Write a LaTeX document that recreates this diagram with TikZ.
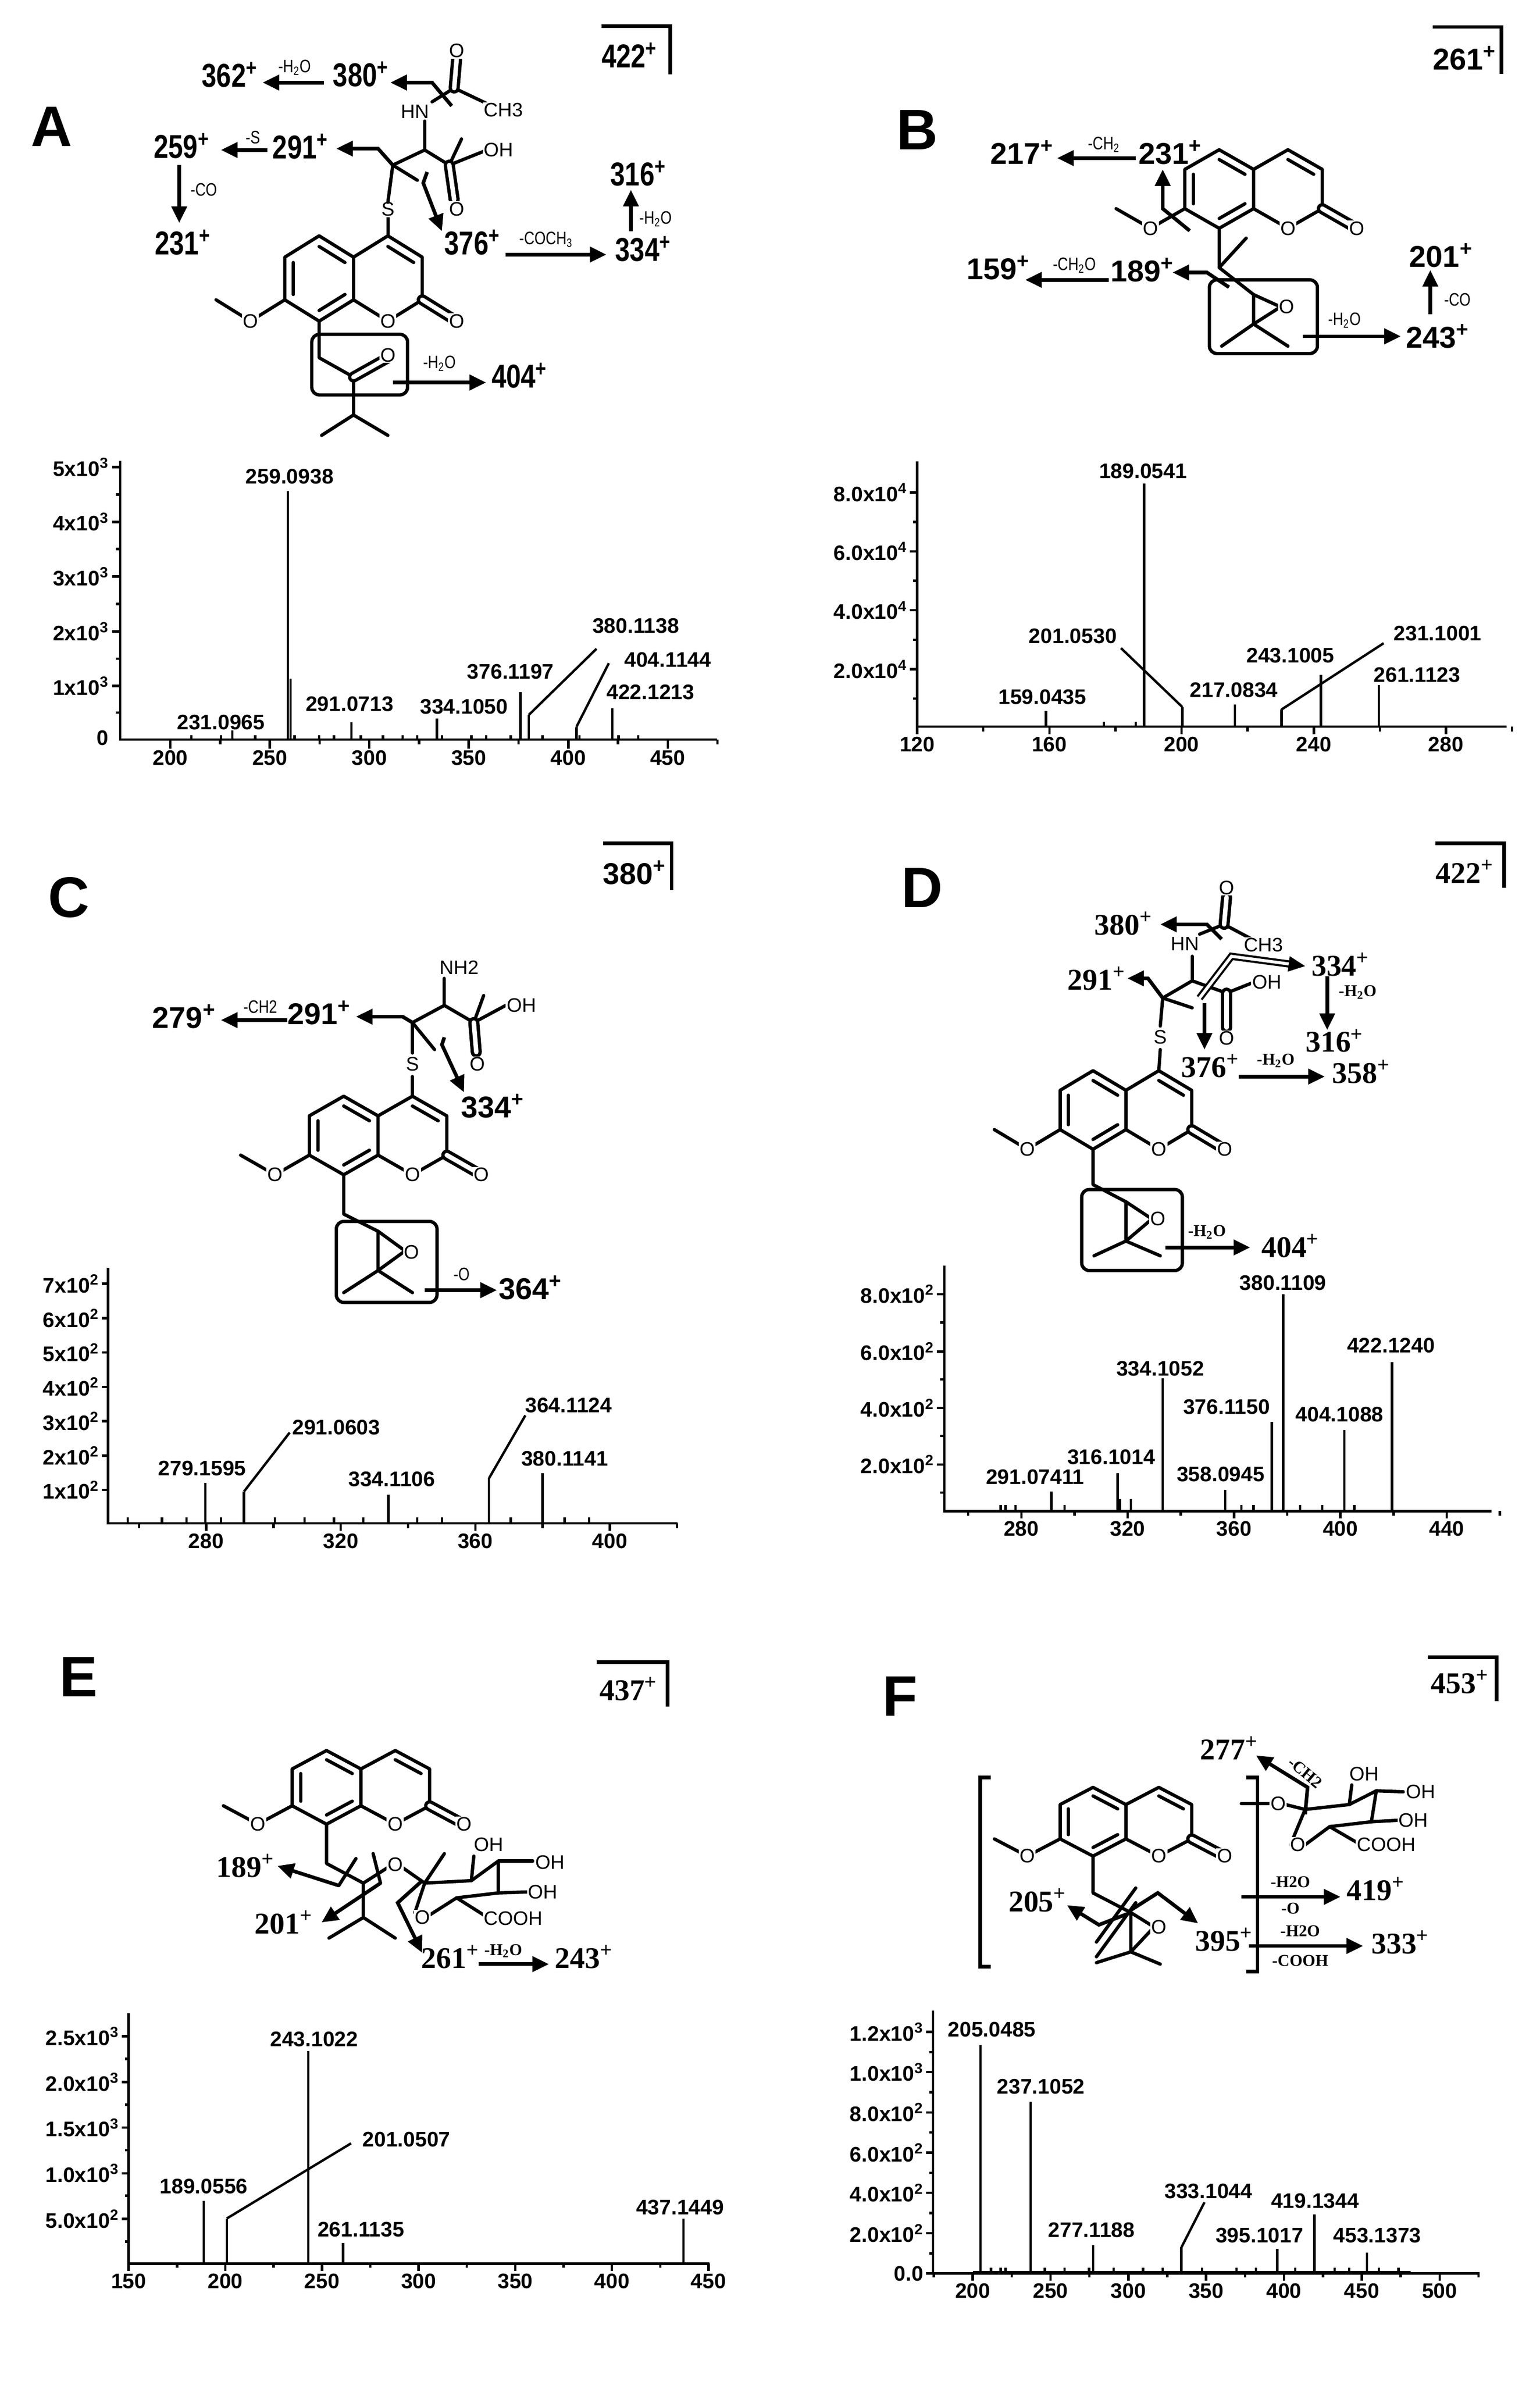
\documentclass[tikz,border=0pt]{standalone}
\usepackage{fontspec}
\setmainfont{Liberation Serif}
\setsansfont{Liberation Sans}
\newfontfamily\nsans[FakeStretch=0.8]{Liberation Sans}
\usetikzlibrary{arrows.meta,calc}
\newcommand\pl{\textsuperscript{+}}
\tikzset{
 bond/.style={line width=2.2pt,line cap=round,line join=round},
 atom/.style={fill=white,inner sep=0.6pt,font=\sffamily\fontsize{13}{13}\selectfont},
 arr/.style={line width=2.4pt,-{Triangle[length=11pt,width=10pt]}},
 ax/.style={line width=1.6pt},
 peak/.style={line width=1.6pt},
 sl/.style={font=\sffamily\bfseries\fontsize{14}{14}\selectfont,inner sep=1pt},
 fa/.style={font=\nsans\bfseries\fontsize{22}{22}\selectfont,inner sep=0pt},
 fs/.style={font=\sffamily\bfseries\fontsize{20}{20}\selectfont,inner sep=0pt},
 ft/.style={font=\rmfamily\bfseries\fontsize{20}{20}\selectfont,inner sep=0pt},
 sm/.style={font=\nsans\fontsize{12}{12}\selectfont,inner sep=0pt},
 smt/.style={font=\rmfamily\bfseries\fontsize{11}{11}\selectfont,inner sep=0pt},
 letter/.style={font=\sffamily\bfseries\fontsize{38}{38}\selectfont},
 boxl/.style={line width=2.4pt},
}
\newcommand\coum[5]{%
 \begin{scope}[shift={(#1,#2)}]
 \path (0,{-#4/2}) coordinate (#5a) (0,{#4/2}) coordinate (#5b)
 ({-#3},{-#4}) coordinate (#5l1) ({-2*#3},{-#4/2}) coordinate (#5l2)
 ({-2*#3},{#4/2}) coordinate (#5l3) ({-#3},{#4}) coordinate (#5l4)
 (#3,{-#4}) coordinate (#5r1) ({2*#3},{-#4/2}) coordinate (#5r2)
 ({2*#3},{#4/2}) coordinate (#5r3) (#3,#4) coordinate (#5r4)
 ({-#3},0) coordinate (#5cl) (#3,0) coordinate (#5cr)
 ({3*#3},#4) coordinate (#5ox) ({-3*#3},#4) coordinate (#5om) ({-4*#3},{#4/2}) coordinate (#5me);
 \draw[bond] (#5a)--(#5l1)--(#5l2)--(#5l3)--(#5l4)--(#5b)--cycle;
 \draw[bond] (#5a)--(#5r1)--(#5r2)--(#5r3)--(#5r4)--(#5b);
 \draw[bond] ($(#5a)!0.25!(#5cl)$)--($(#5l1)!0.25!(#5cl)$);
 \draw[bond] ($(#5l2)!0.25!(#5cl)$)--($(#5l3)!0.25!(#5cl)$);
 \draw[bond] ($(#5l4)!0.25!(#5cl)$)--($(#5b)!0.25!(#5cl)$);
 \draw[bond] ($(#5r1)!0.25!(#5cr)$)--($(#5r2)!0.25!(#5cr)$);
 \draw[bond,double,double distance=3pt] (#5r3)--(#5ox);
 \draw[bond] (#5l3)--(#5om)--(#5me);
 \node[atom] (#5O1) at (#5r4) {O};
 \node[atom] (#5O2) at (#5ox) {O};
 \node[atom] (#5O3) at (#5om) {O};
 \end{scope}}
\begin{document}
\begin{tikzpicture}[x=1pt,y=-1pt]
\path[use as bounding box,fill=white] (0,0) rectangle (1024,1584);

%%%%%%%%%%%%%%%% PANEL A (top)
\begin{scope}[x=0.3265pt,y=-0.183pt]
\node[letter] (lA) at (105,460) {A};
\draw[boxl] (1225,95)--(1365,95)--(1365,270);
\node[fa] (pA) at (1282,200) {422\pl};
\coum{720}{1012}{70}{155}{A}
\draw[bond] (Al4)--(650,1300)--(720,1370)--(720,1508);
\draw[bond,double,double distance=3pt] (720,1370)--(790,1300);
\node[atom] at (790,1290) {O};
\draw[bond] (720,1508)--(655,1582) (720,1508)--(790,1582);
\draw[line width=2.2pt,rounded corners=5pt] (635,1215) rectangle (830,1435);
\draw[arr] (800,1390)--(990,1390);
\node[sm] at (895,1320) {-H\textsubscript{2}O};
\node[fa] (A404) at (1058,1365) {404\pl};
\draw[bond] (Ar1)--(790,790);
\node[atom] (AS) at (790,760) {S};
\draw[bond] (790,735)--(800,600)--(865,545)--(915,600);
\draw[bond] (865,545)--(865,440);
\node[atom] (AHN) at (845,405) {HN};
\draw[bond] (880,370)--(925,320)--(990,375);
\draw[bond,double,double distance=3pt] (925,320)--(930,215);
\node[atom] at (930,185) {O};
\node[atom] at (1025,400) {CH3};
\draw[bond] (915,600)--(985,550);
\node[atom] at (1015,545) {OH};
\draw[bond] (915,600)--(940,505);
\draw[bond,double,double distance=3pt] (915,600)--(925,725);
\node[atom] at (930,760) {O};
\draw[bond] (800,600)--(850,655);
\draw[arr] (920,385)--(880,300)--(795,300);
\node[fa] (A380) at (735,270) {380\pl};
\draw[arr] (660,300)--(535,300);
\node[sm] at (600,245) {-H\textsubscript{2}O};
\node[fa] (A362) at (468,272) {362\pl};
\draw[arr] (800,600)--(770,540)--(685,540);
\node[fa] (A291) at (612,532) {291\pl};
\draw[arr] (545,545)--(450,545);
\node[sm] at (515,500) {-S};
\node[fa] (A259) at (370,530) {259\pl};
\draw[arr] (365,600)--(365,810);
\node[sm] at (415,690) {-CO};
\node[fa] (A231) at (372,880) {231\pl};
\draw[arr] (870,625)--(862,665)--(900,840);
\node[fa] (A376) at (962,880) {376\pl};
\node[sm] at (1112,870) {-COCH\textsubscript{3}};
\draw[arr] (1030,925)--(1235,925);
\node[fa] (A334) at (1310,905) {334\pl};
\draw[arr] (1285,840)--(1285,690);
\node[sm] at (1335,795) {-H\textsubscript{2}O};
\node[fa] (A316) at (1300,630) {316\pl};
\end{scope}
%%%%%%%%%%%%%%%% PANEL A (spectrum)
\begin{scope}[yshift=-269pt,x=0.3265pt,y=-0.160pt]
\draw[ax] (245,235)--(245,1393)--(1460,1393);
\foreach \y/\l in {260/5,488/4,715/3,943/2,1170/1}{
 \draw[ax] (245,\y)--(228,\y);
 \node[sl,anchor=east] at (225,\y) {\l x10\textsuperscript{3}};}
\node[sl,anchor=east] at (225,1385) {0};
\foreach \y in {374,601,829,1056,1281} \draw[ax] (245,\y)--(236,\y);
\foreach \m in {200,250,...,450}{
 \pgfmathsetmacro\xx{347+(\m-200)*4.052}
 \draw[ax] (\xx,1393)--(\xx,1430);
 \node[sl,anchor=north] at (\xx,1430) {\m};}
\foreach \m in {225,275,...,475}{
 \pgfmathsetmacro\xx{347+(\m-200)*4.052}
 \draw[ax] (\xx,1393)--(\xx,1413);}
\foreach \x in {390,450,520,600,650,680,735,780,820,850,900,960,990,1040,1105,1180,1260,1300}
 \draw[peak] (\x,1393)--(\x,1375);
\foreach \x/\t in {473/1355,586/360,592/1140,716/1320,890/1305,1060/1195,1077/1290,1174/1340,1247/1262}
 \draw[peak] (\x,1393)--(\x,\t);
\draw[peak] (1077,1290)--(1215,1015);
\draw[peak] (1174,1340)--(1240,1075);
\node[sl] (sA1) at (590,300) {259.0938};
\node[sl] (sA2) at (450,1320) {231.0965};
\node[sl] (sA3) at (712,1245) {291.0713};
\node[sl] (sA4) at (945,1255) {334.1050};
\node[sl] (sA5) at (1040,1110) {376.1197};
\node[sl] (sA6) at (1295,920) {380.1138};
\node[sl] (sA7) at (1360,1060) {404.1144};
\node[sl] (sA8) at (1325,1195) {422.1213};
\end{scope}

%%%%%%%%%%%%%%%% PANEL B
\begin{scope}[xshift=512pt,x=0.3265pt,y=-0.3265pt]
\node[letter] (lB) at (300,265) {B};
\draw[boxl] (1350,55)--(1490,55)--(1490,150);
\node[fs] (pB) at (1415,118) {261\pl};
\coum{985}{385}{70}{80}{B}
\draw[bond] (Bl4)--(915,545)--(985,600)--(985,660);
\draw[bond] (915,545)--(970,485);
\draw[bond] (985,600)--(1040,625) (985,660)--(1040,625);
\node[atom] at (1052,625) {O};
\draw[bond] (985,660)--(920,705) (985,660)--(1055,705);
\draw[line width=2.2pt,rounded corners=5pt] (895,570) rectangle (1115,720);
\draw[arr] (855,470)--(800,425)--(800,345);
\node[fs] (B231) at (815,310) {231\pl};
\draw[arr] (745,322)--(585,322);
\node[sm] at (680,295) {-CH\textsubscript{2}};
\node[fs] (B217) at (513,310) {217\pl};
\draw[arr] (935,585)--(890,555)--(820,555);
\node[fs] (B189) at (758,550) {189\pl};
\draw[arr] (690,570)--(520,570);
\node[sm] at (620,540) {-CH\textsubscript{2}O};
\node[fs] (B159) at (465,545) {159\pl};
\draw[arr] (1085,685)--(1285,685);
\node[sm] at (1170,652) {-H\textsubscript{2}O};
\node[fs] (B243) at (1360,685) {243\pl};
\draw[arr] (1345,640)--(1345,550);
\node[sm] at (1400,610) {-CO};
\node[fs] (B201) at (1367,520) {201\pl};
\draw[ax] (300,940)--(300,1480)--(1500,1480);
\foreach \y/\l in {1003/8.0,1123/6.0,1243/4.0,1363/2.0}{
 \draw[ax] (300,\y)--(285,\y);
 \node[sl,anchor=east] at (283,\y) {\l x10\textsuperscript{4}};}
\foreach \y in {1063,1183,1303,1423} \draw[ax] (300,\y)--(292,\y);
\foreach \m in {120,160,...,280}{
 \pgfmathsetmacro\xx{300+(\m-120)*6.73}
 \draw[ax] (\xx,1480)--(\xx,1495);
 \node[sl,anchor=north] at (\xx,1497) {\m};}
\foreach \m in {140,180,...,300}{
 \pgfmathsetmacro\xx{300+(\m-120)*6.73}
 \draw[ax] (\xx,1480)--(\xx,1490);}
\foreach \x/\t in {562/1448,680/1470,745/1470,762/985,840/1440,947/1435,1042/1445,1122/1375,1240/1395}
 \draw[peak] (\x,1480)--(\x,\t);
\draw[peak] (840,1440)--(715,1320);
\draw[peak] (1042,1445)--(1250,1310);
\node[sl] (sB1) at (760,960) {189.0541};
\node[sl] (sB2) at (617,1295) {201.0530};
\node[sl] (sB3) at (555,1420) {159.0435};
\node[sl] (sB4) at (945,1405) {217.0834};
\node[sl] (sB5) at (1060,1335) {243.1005};
\node[sl] (sB6) at (1360,1290) {231.1001};
\node[sl] (sB7) at (1318,1375) {261.1123};
\end{scope}

%%%%%%%%%%%%%%%% PANEL C
\begin{scope}[yshift=-520pt,x=0.3265pt,y=-0.3265pt]
\node[letter] (lC) at (140,235) {C};
\draw[boxl] (1228,125)--(1368,125)--(1368,220);
\node[fs] (pC) at (1292,185) {380\pl};
\coum{770}{720}{70}{80}{C}
\draw[bond] (Cr1)--(840,600);
\node[atom] (CS) at (840,575) {S};
\draw[bond] (840,552)--(840,490)--(905,455)--(965,490);
\draw[bond] (905,455)--(905,400);
\node[atom] at (935,378) {NH2};
\draw[bond] (965,490)--(985,435);
\draw[bond] (965,490)--(1030,455);
\node[atom] at (1062,455) {OH};
\draw[bond,double,double distance=3pt] (965,490)--(970,550);
\node[atom] at (972,575) {O};
\draw[bond] (840,490)--(885,545);
\draw[arr] (840,490)--(820,478)--(725,478);
\node[fs] (C291) at (650,470) {291\pl};
\draw[arr] (585,485)--(450,485);
\node[sm] at (530,458) {-CH2};
\node[fs] (C279) at (375,478) {279\pl};
\draw[arr] (905,520)--(900,535)--(945,632);
\node[fs] (C334) at (1004,660) {334\pl};
\draw[bond] (Cl4)--(700,880)--(770,915)--(770,995);
\draw[bond] (770,915)--(825,955) (770,995)--(825,955);
\node[atom] at (838,958) {O};
\draw[bond] (770,995)--(700,1040) (770,995)--(840,1040);
\draw[line width=2.2pt,rounded corners=5pt] (685,895) rectangle (890,1060);
\draw[arr] (865,1035)--(1012,1035);
\node[sm] at (940,1003) {-O};
\node[fs] (C364) at (1080,1030) {364\pl};
\draw[ax] (220,990)--(220,1510)--(1380,1510);
\foreach \y/\l in {1022/7,1092/6,1162/5,1232/4,1302/3,1372/2,1442/1}{
 \draw[ax] (220,\y)--(207,\y);
 \node[sl,anchor=east] at (205,\y) {\l x10\textsuperscript{2}};}
\foreach \m in {280,320,...,400}{
 \pgfmathsetmacro\xx{420+(\m-280)*6.85}
 \draw[ax] (\xx,1510)--(\xx,1525);
 \node[sl,anchor=north] at (\xx,1527) {\m};}
\foreach \m in {260,300,...,420}{
 \pgfmathsetmacro\xx{420+(\m-280)*6.85}
 \draw[ax] (\xx,1510)--(\xx,1520);}
\foreach \x in {260,330,380,450,560,620,680,740,850,900,1040,1150,1200}
 \draw[peak] (\x,1510)--(\x,1498);
\foreach \x/\t in {418/1428,497/1445,791/1452,996/1418,1105/1408}
 \draw[peak] (\x,1510)--(\x,\t);
\draw[peak] (497,1445)--(590,1325);
\draw[peak] (996,1418)--(1070,1290);
\node[sl] (sC1) at (412,1398) {279.1595};
\node[sl] (sC2) at (685,1315) {291.0603};
\node[sl] (sC3) at (798,1420) {334.1106};
\node[sl] (sC4) at (1158,1270) {364.1124};
\node[sl] (sC5) at (1150,1378) {380.1141};
\end{scope}

%%%%%%%%%%%%%%%% PANEL D
\begin{scope}[xshift=512pt,yshift=-520pt,x=0.3265pt,y=-0.3265pt]
\node[letter] (lD) at (310,215) {D};
\draw[boxl] (1355,125)--(1495,125)--(1495,215);
\node[ft] (pD) at (1415,183) {422\pl};
\coum{725}{668}{67}{80}{D}
\draw[bond] (Dr1)--(795,545);
\node[atom] (DS) at (795,520) {S};
\draw[bond] (795,497)--(800,440)--(860,405)--(930,430);
\draw[bond] (860,405)--(860,355);
\node[atom] at (845,330) {HN};
\draw[bond] (875,310)--(925,290)--(1000,330);
\draw[bond,double,double distance=3pt] (925,290)--(930,235);
\node[atom] at (930,215) {O};
\node[atom] at (1005,332) {CH3};
\draw[bond] (930,430)--(985,408);
\node[atom] at (1012,408) {OH};
\draw[bond,double,double distance=3pt] (930,430)--(930,500);
\node[atom] at (930,522) {O};
\draw[bond] (800,440)--(860,460);
\draw[arr] (920,320)--(890,290)--(795,290);
\node[ft] (D380) at (720,288) {380\pl};
\draw[arr] (800,440)--(770,400)--(728,400);
\node[ft] (D291) at (665,400) {291\pl};
\draw[arr,double,double distance=2pt,line width=1.4pt] (875,440)--(940,355)--(1090,375);
\node[ft] (D334) at (1162,372) {334\pl};
\draw[arr] (1135,395)--(1135,505);
\node[smt] at (1197,428) {-H\textsubscript{2}O};
\node[ft] (D316) at (1150,527) {316\pl};
\draw[arr] (885,450)--(885,545);
\node[ft] (D376) at (897,578) {376\pl};
\node[smt] at (1030,568) {-H\textsubscript{2}O};
\draw[arr] (955,600)--(1130,600);
\node[ft] (D358) at (1204,590) {358\pl};
\draw[bond] (Dl4)--(658,820)--(725,855)--(725,935);
\draw[bond] (725,855)--(778,890) (725,935)--(778,890);
\node[atom] at (790,890) {O};
\draw[bond] (725,935)--(660,965) (725,935)--(795,965);
\draw[line width=2.2pt,rounded corners=5pt] (635,830) rectangle (840,995);
\draw[arr] (805,948)--(978,948);
\node[smt] at (890,917) {-H\textsubscript{2}O};
\node[ft] (D404) at (1060,945) {404\pl};
\draw[ax] (355,985)--(355,1485)--(1470,1485);
\foreach \y/\l in {1043/8.0,1160/6.0,1275/4.0,1390/2.0}{
 \draw[ax] (355,\y)--(340,\y);
 \node[sl,anchor=east] at (338,\y) {\l x10\textsuperscript{2}};}
\foreach \y in {1101,1217,1332,1447} \draw[ax] (355,\y)--(347,\y);
\foreach \m in {280,320,...,440}{
 \pgfmathsetmacro\xx{512+(\m-280)*5.415}
 \draw[ax] (\xx,1485)--(\xx,1500);
 \node[sl,anchor=north] at (\xx,1502) {\m};}
\foreach \m in {260,300,...,460}{
 \pgfmathsetmacro\xx{512+(\m-280)*5.415}
 \draw[ax] (\xx,1485)--(\xx,1495);}
\foreach \x in {470,480,500,600,960,985,1080,1125,1190}
 \draw[peak] (\x,1485)--(\x,1472);
\foreach \x/\t in {573/1445,708/1408,713/1460,735/1460,800/1215,927/1442,1022/1303,1045/1043,1170/1320,1267/1182}
 \draw[peak] (\x,1485)--(\x,\t);
\node[sl] (sD1) at (540,1415) {291.07411};
\node[sl] (sD2) at (695,1375) {316.1014};
\node[sl] (sD3) at (795,1195) {334.1052};
\node[sl] (sD4) at (918,1410) {358.0945};
\node[sl] (sD5) at (930,1273) {376.1150};
\node[sl] (sD6) at (1045,1020) {380.1109};
\node[sl] (sD7) at (1160,1288) {404.1088};
\node[sl] (sD8) at (1265,1148) {422.1240};
\end{scope}

%%%%%%%%%%%%%%%% PANEL E
\begin{scope}[yshift=-1040pt,x=0.3265pt,y=-0.3265pt]
\node[letter] (lE) at (160,230) {E};
\draw[boxl] (1215,200)--(1360,200)--(1360,290);
\node[ft] (pE) at (1280,255) {437\pl};
\coum{735}{455}{70}{75}{E}
\draw[bond] (El4)--(665,610)--(740,650)--(740,720);
\draw[bond] (740,720)--(670,762) (740,720)--(805,762);
\draw[bond] (740,650)--(795,615);
\draw[bond] (815,615)--(865,650)--(960,645)--(1015,605)--(1015,670)--(930,680)--(875,715);
\draw[bond] (865,650)--(845,710);
\draw[bond] (865,650)--(905,590);
\draw[bond] (960,645)--(965,595);
\draw[bond] (1015,605)--(1085,605);
\draw[bond] (1015,670)--(1075,668);
\draw[bond] (930,680)--(990,718);
\draw[bond] (760,590)--(775,650);
\draw[bond] (725,600)--(690,655);
\node[atom] at (805,612) {O};
\node[atom] at (860,720) {O};
\node[atom] at (995,572) {OH};
\node[atom] at (1120,608) {OH};
\node[atom] at (1105,668) {OH};
\node[atom] at (1045,722) {COOH};
\draw[arr] (690,655)--(565,615);
\node[ft] (E189) at (500,615) {189\pl};
\draw[arr] (775,650)--(655,730);
\node[ft] (E201) at (578,730) {201\pl};
\draw[arr] (860,645)--(810,690)--(860,792);
\node[ft] (E261) at (917,800) {261\pl};
\node[smt] at (1025,788) {-H\textsubscript{2}O};
\draw[arr] (975,815)--(1118,815);
\node[ft] (E243) at (1189,800) {243\pl};
\draw[ax] (262,915)--(262,1425)--(1445,1425);
\foreach \y/\l in {962/2.5x10\textsuperscript{3},1055/2.0x10\textsuperscript{3},1148/1.5x10\textsuperscript{3},1241/1.0x10\textsuperscript{3},1334/5.0x10\textsuperscript{2}}{
 \draw[ax] (262,\y)--(248,\y);
 \node[sl,anchor=east] at (246,\y) {\l};}
\foreach \y in {1008,1101,1194,1287,1380} \draw[ax] (262,\y)--(255,\y);
\foreach \m in {150,200,...,450}{
 \pgfmathsetmacro\xx{262+(\m-150)*3.937}
 \draw[ax] (\xx,1425)--(\xx,1440);
 \node[sl,anchor=north] at (\xx,1442) {\m};}
\foreach \m in {175,225,...,425}{
 \pgfmathsetmacro\xx{262+(\m-150)*3.937}
 \draw[ax] (\xx,1425)--(\xx,1433);}
\foreach \x/\t in {415/1297,462/1333,628/992,699/1383,1392/1333}
 \draw[peak] (\x,1425)--(\x,\t);
\draw[peak] (462,1333)--(715,1180);
\node[sl] (sE1) at (640,968) {243.1022};
\node[sl] (sE2) at (828,1172) {201.0507};
\node[sl] (sE3) at (415,1268) {189.0556};
\node[sl] (sE4) at (735,1355) {261.1135};
\node[sl] (sE5) at (1385,1310) {437.1449};
\end{scope}

%%%%%%%%%%%%%%%% PANEL F
\begin{scope}[xshift=512pt,yshift=-1040pt,x=0.3265pt,y=-0.3265pt]
\node[letter] (lF) at (265,270) {F};
\draw[boxl] (1340,190)--(1480,190)--(1480,280);
\node[ft] (pF) at (1405,240) {453\pl};
\draw[boxl] (450,435)--(428,435)--(428,820)--(450,820);
\draw[boxl] (970,435)--(993,435)--(993,830)--(970,830);
\coum{725}{525}{67}{70}{F}
\draw[bond] (Fl4)--(658,670)--(735,710)--(735,790);
\draw[bond] (735,710)--(780,738) (735,790)--(780,742);
\node[atom] at (792,740) {O};
\draw[bond] (735,790)--(665,812) (735,790)--(795,815);
\draw[bond] (665,770)--(745,660) (665,800)--(745,690);
\draw[arr] (735,710)--(670,735)--(605,695);
\node[ft] (F205) at (545,685) {205\pl};
\draw[arr] (735,705)--(790,670)--(872,732);
\node[ft] (F395) at (925,765) {395\pl};
\draw[bond] (960,488)--(1020,488);
\draw[bond] (1050,490)--(1090,500)--(1180,490)--(1235,462)--(1225,525)--(1140,535)--(1090,572);
\draw[bond] (1060,572)--(1090,500);
\draw[bond] (1180,490)--(1185,450);
\draw[bond] (1235,462)--(1290,464);
\draw[bond] (1225,525)--(1280,522);
\draw[bond] (1140,535)--(1200,570);
\node[atom] at (1035,488) {O};
\node[atom] at (1075,572) {O};
\node[atom] at (1210,428) {OH};
\node[atom] at (1325,464) {OH};
\node[atom] at (1310,522) {OH};
\node[atom] at (1255,572) {COOH};
\draw[arr] (1090,510)--(1095,455)--(990,390);
\node[smt,rotate=-40] at (1090,425) {-CH2};
\node[ft] (F277) at (935,375) {277\pl};
\draw[arr] (960,678)--(1162,678);
\node[smt] at (1060,648) {-H2O};
\node[smt] at (1060,702) {-O};
\node[ft] (F419) at (1234,662) {419\pl};
\draw[arr] (975,778)--(1208,778);
\node[smt] at (1080,748) {-H2O};
\node[smt] at (1080,808) {-COOH};
\node[ft] (F333) at (1284,770) {333\pl};
\draw[ax] (332,910)--(332,1445)--(1445,1445);
\foreach \y/\l in {953/1.2x10\textsuperscript{3},1035/1.0x10\textsuperscript{3},1117/8.0x10\textsuperscript{2},1199/6.0x10\textsuperscript{2},1281/4.0x10\textsuperscript{2},1363/2.0x10\textsuperscript{2},1445/0.0}{
 \draw[ax] (332,\y)--(318,\y);
 \node[sl,anchor=east] at (316,\y) {\l};}
\foreach \y in {994,1076,1158,1240,1322,1404} \draw[ax] (332,\y)--(325,\y);
\foreach \m in {200,250,...,500}{
 \pgfmathsetmacro\xx{413+(\m-200)*3.17}
 \draw[ax] (\xx,1445)--(\xx,1460);
 \node[sl,anchor=north] at (\xx,1462) {\m};}
\foreach \m in {175,225,...,525}{
 \pgfmathsetmacro\xx{413+(\m-200)*3.17}
 \draw[ax] (\xx,1445)--(\xx,1453);}
\draw[peak] (413,1442)--(1305,1442);
\foreach \x in {450,470,480,560,600,650,700,760,800,880,950,990,1070,1150,1180,1240,1280}
 \draw[peak] (\x,1445)--(\x,1433);
\foreach \x/\t in {429/980,531/1095,658/1387,838/1392,1033/1395,1109/1325,1216/1403}
 \draw[peak] (\x,1445)--(\x,\t);
\draw[peak] (838,1392)--(885,1300);
\node[sl] (sF1) at (452,948) {205.0485};
\node[sl] (sF2) at (552,1065) {237.1052};
\node[sl] (sF3) at (655,1357) {277.1188};
\node[sl] (sF4) at (893,1278) {333.1044};
\node[sl] (sF5) at (997,1367) {395.1017};
\node[sl] (sF6) at (1110,1297) {419.1344};
\node[sl] (sF7) at (1237,1368) {453.1373};
\end{scope}
\end{tikzpicture}
\end{document}
